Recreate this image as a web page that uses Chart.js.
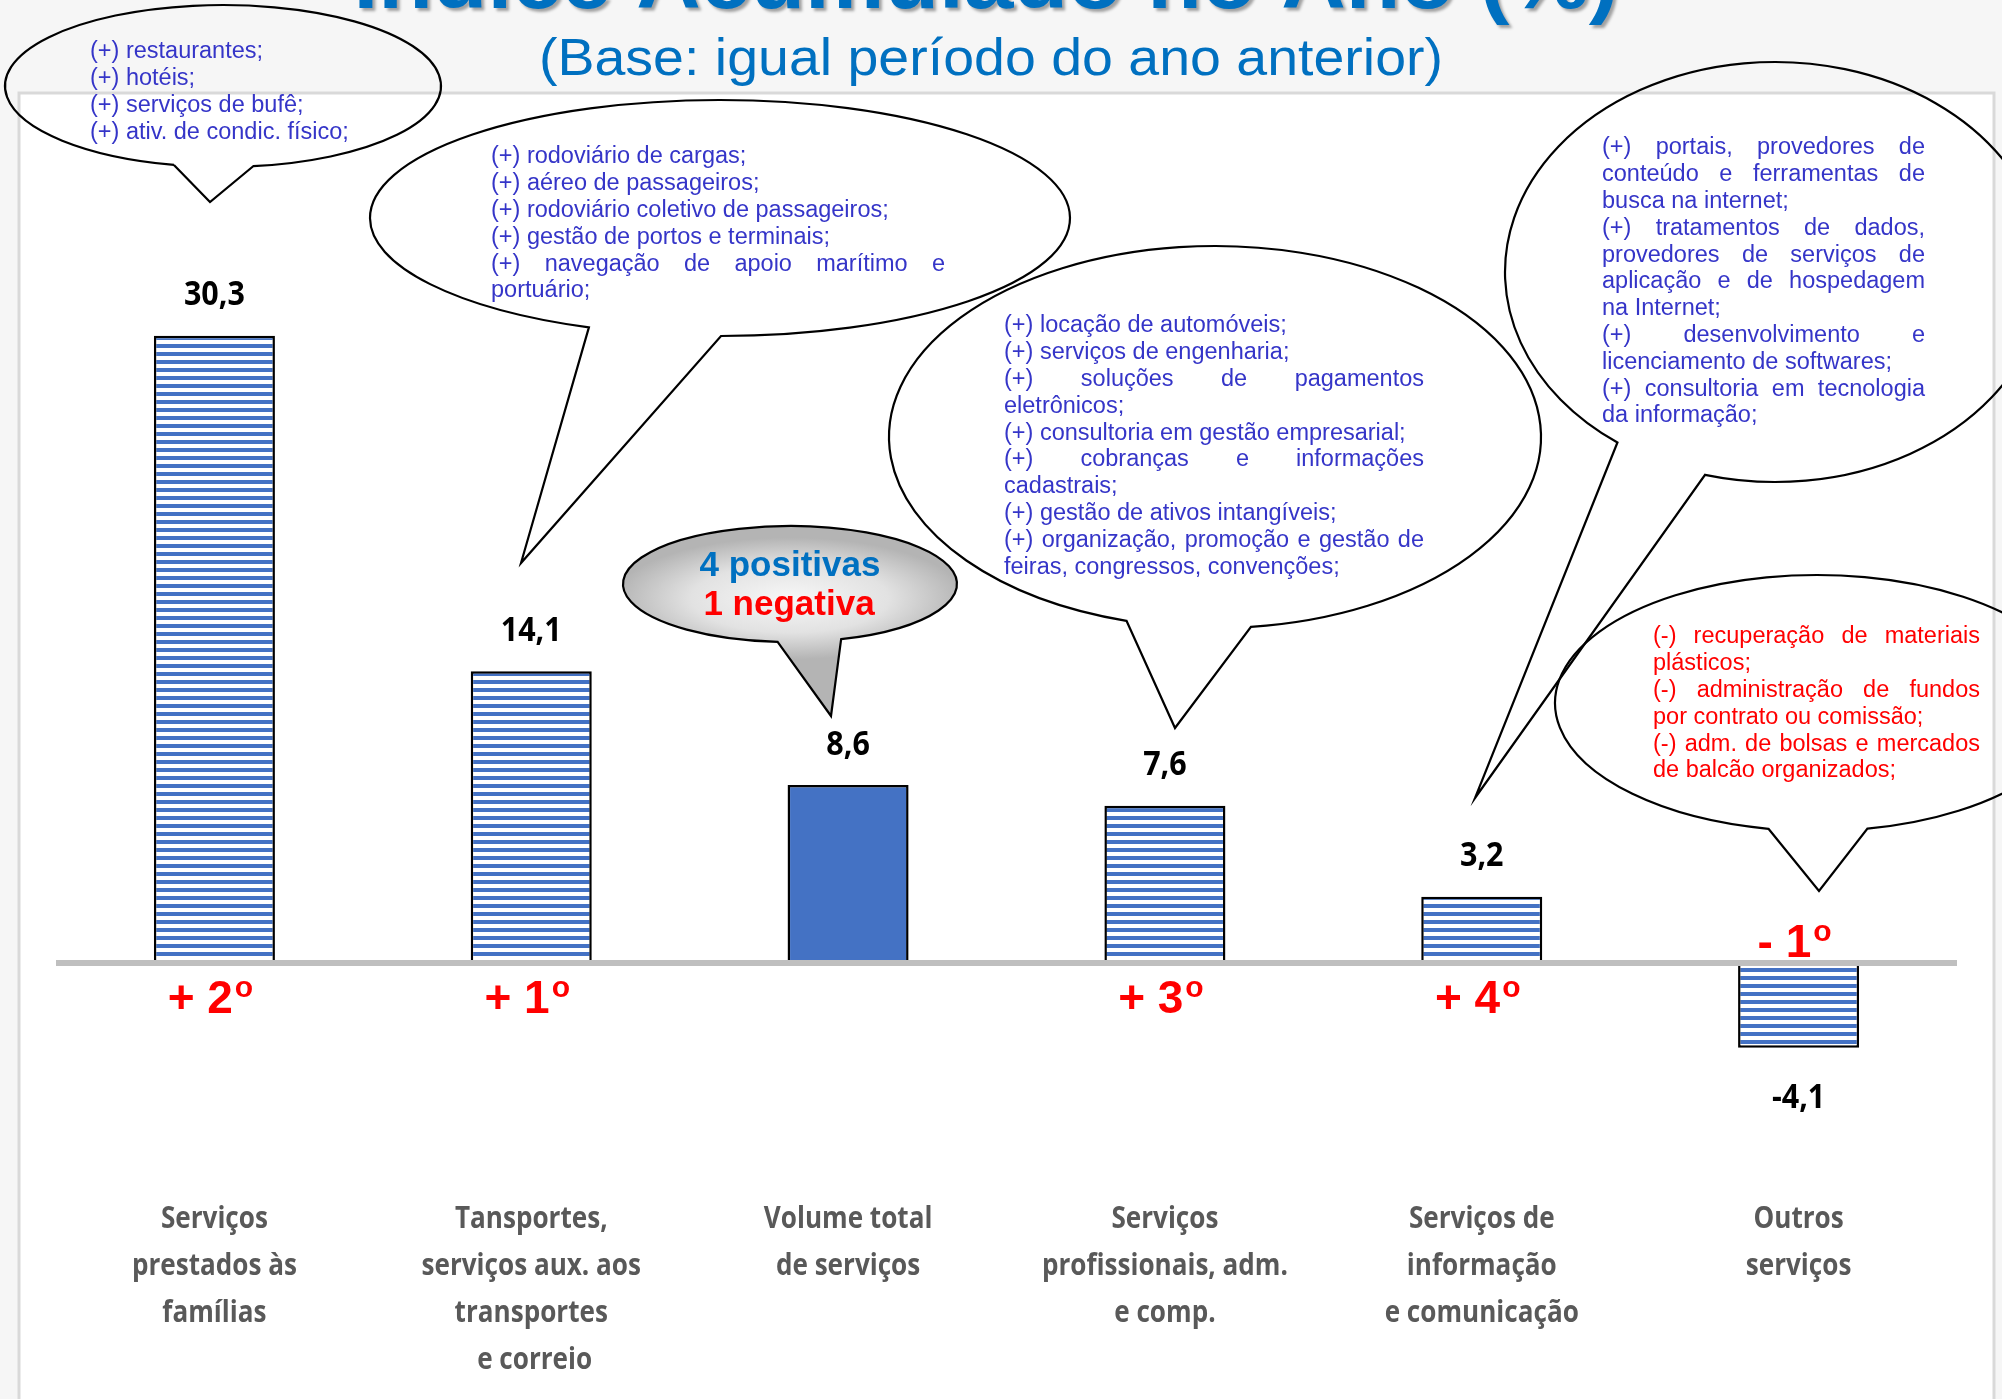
<!DOCTYPE html>
<html lang="pt-BR">
<head>
<meta charset="utf-8">
<title>Índice Acumulado no Ano (%)</title>
<script src="https://cdn.jsdelivr.net/npm/chart.js@4/dist/chart.umd.min.js"></script>
<style>
    html, body { margin: 0; padding: 0; background: #f6f6f6; overflow: hidden; }
    canvas { display: block; }
</style>
</head>
<body>
<canvas id="chart" width="2002" height="1399"></canvas>
<script>
// Chart data
const categories = [
    ['Serviços', 'prestados às', 'famílias'],
    ['Tansportes,', 'serviços aux. aos', 'transportes', ' e correio'],
    ['Volume total', 'de serviços'],
    ['Serviços', 'profissionais, adm.', 'e comp.'],
    ['Serviços de', 'informação', 'e comunicação'],
    ['Outros', 'serviços']
];
const values = [30.3, 14.1, 8.6, 7.6, 3.2, -4.1];
const ranks = ['+ 2', '+ 1', '', '+ 3', '+ 4', '- 1'];
const totalBar = [false, false, true, false, false, false];
const yMin = -10;
const yMax = 40;

const titleText = 'Índice Acumulado no Ano (%)';
const subtitleText = '(Base: igual período do ano anterior)';
const summaryPositive = '4 positivas';
const summaryNegative = '1 negativa';

// Callout texts
const notesFamilias = [
    '(+) restaurantes;',
    '(+) hotéis;',
    '(+) serviços de bufê;',
    '(+) ativ. de condic. físico;'
];
const notesTransportes = [
    '(+) rodoviário de cargas;',
    '(+) aéreo de passageiros;',
    '(+) rodoviário coletivo de passageiros;',
    '(+) gestão de portos e terminais;',
    '(+) navegação de apoio marítimo e',
    'portuário;'
];
const notesProfissionais = [
    '(+) locação de automóveis;',
    '(+) serviços de engenharia;',
    '(+) soluções de pagamentos',
    'eletrônicos;',
    '(+) consultoria em gestão empresarial;',
    '(+) cobranças e informações',
    'cadastrais;',
    '(+) gestão de ativos intangíveis;',
    '(+) organização, promoção e gestão de',
    'feiras, congressos, convenções;'
];
const notesInformacao = [
    '(+) portais, provedores de',
    'conteúdo e ferramentas de',
    'busca na internet;',
    '(+) tratamentos de dados,',
    'provedores de serviços de',
    'aplicação e de hospedagem',
    'na Internet;',
    '(+) desenvolvimento e',
    'licenciamento de softwares;',
    '(+) consultoria em tecnologia',
    'da informação;'
];
const notesOutros = [
    '(-) recuperação de materiais',
    'plásticos;',
    '(-) administração de fundos',
    'por contrato ou comissão;',
    '(-) adm. de bolsas e mercados',
    'de balcão organizados;'
];

const BLUE = '#4472c4';
const NOTE_BLUE = '#3535c8';
const TITLE_BLUE = '#0070c0';
const SANS = '"Liberation Sans", Arial, sans-serif';
const LABEL = '"Open Sans", "Noto Sans", sans-serif';

// Striped fill used by the sector bars
function makeStripes() {
    const tile = document.createElement('canvas');
    tile.width = 8;
    tile.height = 8;
    const t = tile.getContext('2d');
    t.fillStyle = '#ffffff';
    t.fillRect(0, 0, 8, 8);
    t.fillStyle = BLUE;
    t.fillRect(0, 0, 8, 4);
    return document.getElementById('chart').getContext('2d').createPattern(tile, 'repeat');
}

// Text drawn with a horizontal squeeze
function drawScaled(ctx, text, x, y, sx, align) {
    ctx.save();
    ctx.translate(x, y);
    ctx.scale(sx, 1);
    ctx.textAlign = align || 'center';
    ctx.fillText(text, 0, 0);
    ctx.restore();
}

// Paragraph with justified lines (lines not ending a paragraph)
function drawNotes(ctx, lines, x, y0, lineH, boxW, font, color) {
    ctx.save();
    ctx.font = font;
    ctx.fillStyle = color;
    ctx.textBaseline = 'middle';
    ctx.textAlign = 'left';
    lines.forEach((line, i) => {
        const y = y0 + i * lineH;
        const natural = ctx.measureText(line).width;
        const words = line.split(' ');
        const justify = !line.trim().endsWith(';') && words.length > 1;
        if (natural > boxW) {
            drawScaled(ctx, line, x, y, boxW / natural, 'left');
            return;
        }
        if (!justify) {
            ctx.fillText(line, x, y);
            return;
        }
        const widths = words.map(w => ctx.measureText(w).width);
        const gap = (boxW - widths.reduce((a, b) => a + b, 0)) / (words.length - 1);
        let cx = x;
        words.forEach((w, k) => {
            ctx.fillText(w, cx, y);
            cx += widths[k] + gap;
        });
    });
    ctx.restore();
}

// Speech bubble: ellipse with a triangular tail
function bubblePath(ctx, b) {
    const ang = p => Math.atan2((p[1] - b.cy) / b.ry, (p[0] - b.cx) / b.rx);
    const a1 = ang(b.base[0]);
    const a2 = ang(b.base[1]);
    ctx.beginPath();
    ctx.moveTo(b.cx + b.rx * Math.cos(a1), b.cy + b.ry * Math.sin(a1));
    ctx.lineTo(b.tip[0], b.tip[1]);
    ctx.lineTo(b.cx + b.rx * Math.cos(a2), b.cy + b.ry * Math.sin(a2));
    ctx.ellipse(b.cx, b.cy, b.rx, b.ry, 0, a2, a1, true);
    ctx.closePath();
}

function drawBubble(ctx, b) {
    ctx.save();
    bubblePath(ctx, b);
    if (b.shaded) {
        ctx.save();
        ctx.translate(b.cx, b.cy);
        ctx.scale(1, b.ry / b.rx);
        const g = ctx.createRadialGradient(0, b.rx * 0.25, 5, 0, b.rx * 0.25, b.rx * 1.05);
        g.addColorStop(0, '#f6f6f6');
        g.addColorStop(0.55, '#e2e2e2');
        g.addColorStop(1, '#b4b4b4');
        ctx.fillStyle = g;
        ctx.fill();
        ctx.restore();
    }
    ctx.lineWidth = 2.2;
    ctx.strokeStyle = '#000000';
    ctx.lineJoin = 'miter';
    ctx.stroke();
    ctx.restore();
}

const bubbles = [
    { cx: 223, cy: 86, rx: 218, ry: 81, base: [[172, 168], [255, 171]], tip: [210, 202] },
    { cx: 720, cy: 218, rx: 350, ry: 118, base: [[587, 329], [721, 335]], tip: [521, 563] },
    { cx: 1215, cy: 437, rx: 326, ry: 191, base: [[1124, 626], [1251, 627]], tip: [1175, 728] },
    { cx: 1775, cy: 272, rx: 270, ry: 210, base: [[1617, 443], [1705, 475]], tip: [1475, 798] },
    { cx: 1817, cy: 703, rx: 262, ry: 128, base: [[1768, 830], [1868, 830]], tip: [1819, 891] },
    { cx: 790, cy: 584, rx: 167, ry: 58, base: [[778, 640], [840, 638]], tip: [831, 716], shaded: true }
];

// Background, frame and titles
const framePlugin = {
    id: 'frame',
    beforeDraw(chart) {
        const ctx = chart.ctx;
        ctx.save();
        ctx.fillStyle = '#f6f6f6';
        ctx.fillRect(0, 0, chart.width, chart.height);
        ctx.fillStyle = '#ffffff';
        ctx.fillRect(19, 93, 1975, 1320);
        ctx.strokeStyle = '#d9d9d9';
        ctx.lineWidth = 3;
        ctx.strokeRect(19, 93, 1975, 1320);

        ctx.font = 'bold 84px ' + SANS;
        ctx.textBaseline = 'alphabetic';
        ctx.fillStyle = TITLE_BLUE;
        ctx.shadowColor = 'rgba(0,0,0,0.35)';
        ctx.shadowOffsetX = 3;
        ctx.shadowOffsetY = 3;
        ctx.shadowBlur = 3;
        drawScaled(ctx, titleText, 986, 8, 1265 / ctx.measureText(titleText).width, 'center');
        ctx.shadowColor = 'transparent';

        ctx.font = '52px ' + SANS;
        ctx.textBaseline = 'middle';
        drawScaled(ctx, subtitleText, 991, 61, 904 / ctx.measureText(subtitleText).width, 'center');
        ctx.restore();
    }
};

// Zero line, value labels, ranks, category names and callouts
const annotatePlugin = {
    id: 'annotate',
    afterDatasetsDraw(chart) {
        const ctx = chart.ctx;
        const x = chart.scales.x;
        const y = chart.scales.y;
        const zero = y.getPixelForValue(0);

        ctx.save();
        ctx.strokeStyle = '#bfbfbf';
        ctx.lineWidth = 6;
        ctx.beginPath();
        ctx.moveTo(chart.chartArea.left, zero);
        ctx.lineTo(chart.chartArea.right, zero);
        ctx.stroke();

        // value labels
        ctx.font = 'bold 34px ' + LABEL;
        ctx.fillStyle = '#000000';
        ctx.textBaseline = 'middle';
        const valueScale = 61 / ctx.measureText('30,3').width;
        values.forEach((v, i) => {
            const px = x.getPixelForValue(i);
            const py = y.getPixelForValue(v);
            const label = v.toFixed(1).replace('.', ',');
            drawScaled(ctx, label, px, v >= 0 ? py - 40 : py + 50, valueScale, 'center');
        });

        // ranking marks
        ranks.forEach((r, i) => {
            if (!r) return;
            const px = x.getPixelForValue(i) - 4;
            const base = values[i] >= 0 ? zero + 50 : zero - 6;
            ctx.font = 'bold 46px ' + SANS;
            const w1 = ctx.measureText(r).width;
            ctx.font = 'bold 30px ' + SANS;
            const w2 = ctx.measureText('o').width;
            const start = px - (w1 + w2 + 2) / 2;
            ctx.fillStyle = '#ff0000';
            ctx.textBaseline = 'alphabetic';
            ctx.textAlign = 'left';
            ctx.font = 'bold 46px ' + SANS;
            ctx.fillText(r, start, base);
            ctx.font = 'bold 30px ' + SANS;
            ctx.fillText('o', start + w1 + 2, base - 16);
        });

        // category names
        ctx.font = 'bold 31px ' + LABEL;
        ctx.fillStyle = '#595959';
        ctx.textBaseline = 'middle';
        const catScale = 246 / ctx.measureText('profissionais, adm.').width;
        categories.forEach((lines, i) => {
            const px = x.getPixelForValue(i);
            lines.forEach((line, k) => {
                drawScaled(ctx, line, px, zero + 256 + k * 47, catScale, 'center');
            });
        });

        // callouts
        bubbles.forEach(b => drawBubble(ctx, b));
        drawNotes(ctx, notesFamilias, 90, 52, 27, 280, '23.5px ' + SANS, NOTE_BLUE);
        drawNotes(ctx, notesTransportes, 491, 157, 26.8, 454, '23.5px ' + SANS, NOTE_BLUE);
        drawNotes(ctx, notesProfissionais, 1004, 326, 26.8, 420, '23.5px ' + SANS, NOTE_BLUE);
        drawNotes(ctx, notesInformacao, 1602, 148, 26.8, 323, '23.5px ' + SANS, NOTE_BLUE);
        drawNotes(ctx, notesOutros, 1653, 637, 26.8, 327, '23.5px ' + SANS, '#ff0000');

        ctx.font = 'bold 35px ' + SANS;
        ctx.textBaseline = 'middle';
        ctx.textAlign = 'center';
        ctx.fillStyle = TITLE_BLUE;
        ctx.fillText(summaryPositive, 790, 566);
        ctx.fillStyle = '#ff0000';
        ctx.fillText(summaryNegative, 789, 605);
        ctx.restore();
    }
};

const stripes = makeStripes();

new Chart(document.getElementById('chart'), {
    type: 'bar',
    data: {
        labels: categories,
        datasets: [{
            data: values,
            backgroundColor: totalBar.map(t => (t ? BLUE : stripes)),
            borderColor: '#000000',
            borderWidth: 2.5,
            barPercentage: 0.382,
            categoryPercentage: 1
        }]
    },
    options: {
        responsive: false,
        devicePixelRatio: 1,
        animation: false,
        layout: { padding: { left: 56, right: 45, top: 135, bottom: 229 } },
        plugins: { legend: { display: false }, tooltip: { enabled: false } },
        scales: {
            x: { display: false },
            y: { display: false, min: yMin, max: yMax }
        }
    },
    plugins: [framePlugin, annotatePlugin]
});
</script>
</body>
</html>
